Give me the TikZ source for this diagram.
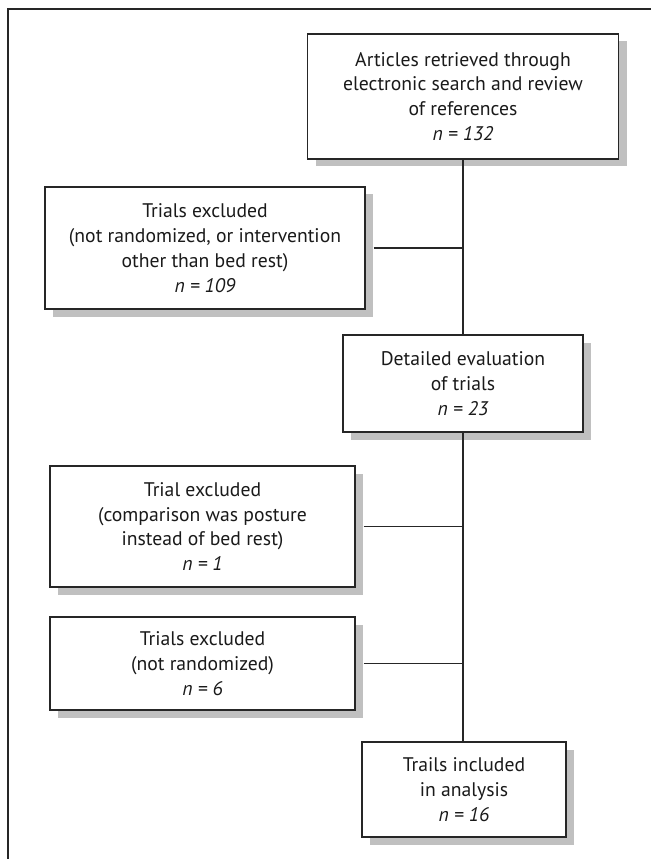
\documentclass[tikz,border=0pt]{standalone}
\usepackage{fontspec}
\setmainfont{PT Sans}
\definecolor{fLine}{HTML}{262626}
\definecolor{fShadow}{HTML}{C0C0C0}
\definecolor{fText}{HTML}{1A1A1A}
\usetikzlibrary{positioning,shadows}
\tikzset{
 flowbox/.style={draw=fLine, fill=white, line width=0.65pt, align=center, inner sep=0pt,
  font=\fontsize{11.2}{14.1}\selectfont, text=fText,
  drop shadow={shadow xshift=0.16cm, shadow yshift=-0.15cm, fill=fShadow, opacity=1}},
 link/.style={draw=fLine, line width=0.65pt}
}
\newcommand{\fnode}[6]{%
 \node[flowbox, minimum width=#4cm, minimum height=#5cm] (#3) at (#1,#2) {#6};}

\begin{document}
\begin{tikzpicture}
\useasboundingbox (0,0) rectangle (13.02,-17.18);
% frame
\draw[line width=0.75pt, draw=fLine] (0.16,-17.18) -- (0.16,-0.18) -- (13.02,-0.18);
% main column
\fnode{9.26}{-1.93}{search}{6.22}{2.5}{Articles retrieved through\\electronic search and review\\of references\\{\itshape n = 132}}
\fnode{9.26}{-7.67}{eval}{4.8}{1.94}{Detailed evaluation\\of trials\\{\itshape n = 23}}
\fnode{9.28}{-15.79}{incl}{4.08}{1.9}{Trails included\\in analysis\\{\itshape n = 16}}
% exclusions
\fnode{4.10}{-4.96}{excl1}{6.4}{2.44}{Trials excluded\\(not randomized, or intervention\\other than bed rest)\\{\itshape n = 109}}
\fnode{4.05}{-10.53}{excl2}{6.1}{2.42}{Trial excluded\\(comparison was posture\\instead of bed rest)\\{\itshape n = 1}}
\fnode{4.05}{-13.27}{excl3}{6.1}{1.86}{Trials excluded\\(not randomized)\\{\itshape n = 6}}
\draw[link] (search.south) -- (eval.north);
\draw[link] (eval.south) -- (eval.south |- incl.north);
\draw[link] ([xshift=0.16cm]excl1.east) -- (excl1.east -| search.south);
\draw[link] ([xshift=0.16cm]excl2.east) -- (excl2.east -| eval.south);
\draw[link] ([xshift=0.16cm]excl3.east) -- (excl3.east -| eval.south);
\end{tikzpicture}
\end{document}
